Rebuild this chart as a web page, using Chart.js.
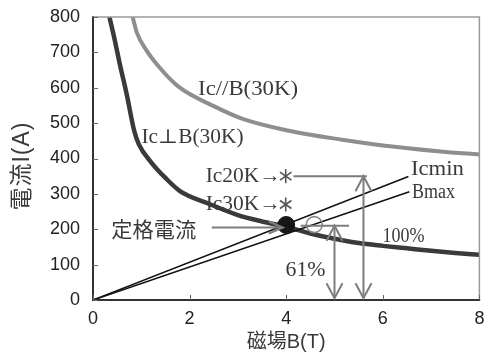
<!DOCTYPE html>
<html><head><meta charset="utf-8">
<script src="https://cdn.jsdelivr.net/npm/chart.js@4/dist/chart.umd.min.js"></script>
<style>html,body{margin:0;padding:0;background:#fff;overflow:hidden}canvas{display:block}</style>
</head><body><canvas id="c" width="489" height="352" style="width:489px;height:352px"></canvas>
<script>
// ---- data ----
const xTicks = [0, 2, 4, 6, 8];
const yTicks = [0, 100, 200, 300, 400, 500, 600, 700, 800];
const xTitle = '磁場B(T)';
const yTitle = '電流I(A)';

// Ic⊥B (30K)
const perpB = [0.34, 0.45, 0.55, 0.70, 0.85, 0.95, 1.2, 1.5, 1.8, 2.4, 3.0, 3.5, 4.0, 4.5, 5.0, 5.5, 6.0, 6.5, 7.0, 7.5, 8.0];
const perpI = [800, 735, 670, 580, 480, 440, 390, 345, 308, 272, 240, 222, 207, 188, 173, 161, 153, 146, 139, 133, 128];
// Ic//B (30K)
const paraB = [0.82, 0.91, 1.1, 1.36, 1.77, 2.5, 3.1, 4.0, 5.16, 6.0, 7.2, 8.0];
const paraI = [800, 755, 707, 660, 603, 548, 512, 480, 453, 437, 420, 411];
// load lines
const icminB = [0, 6.53];
const icminI = [0, 349];
const bmaxB = [0, 6.55];
const bmaxI = [0, 306];
// markers
const ratedB = [4.0];
const ratedI = [212];
const openB = [4.58];
const openI = [213];
const starB = [3.99, 3.99];
const starI = [350, 270];
// annotation guide values
const ic20KLine = {b0: 4.15, b1: 5.67, i: 350};
const openLine = {b0: 4.30, b1: 5.30, i: 210};
const ratedArrow = {b0: 2.46, b1: 3.93, i: 205};
const arrow61 = {b: 5.0, i0: 210, i1: 5};
const arrow100 = {b: 5.6, i0: 350, i1: 5};
// text annotations (anchored in data units)
const noteText = ['Ic//B(30K)', 'Ic⊥B(30K)', 'Ic20K→', 'Ic30K→', '定格電流', '100%', '61%', 'Icmin', 'Bmax'];
const noteB =    [3.21, 2.06, 3.11, 3.11, 1.26, 6.43, 4.40, 7.13, 7.05];
const noteI =    [594, 460, 348, 270, 200, 179, 83, 369, 304];

// ---- styles ----
const noteWidth = [100, 102, 75, 75, 85, 42, 40, 53, 43];
const SERIF = '20px "Liberation Serif", "DejaVu Serif", serif';
const CJK = '21px "Noto Sans CJK JP", sans-serif';
const GUIDE = '#7d7d7d';

const pts = (bs, is) => bs.map((b, k) => ({x: b, y: is[k]}));

const annoPlugin = {
  id: 'anno',
  afterDatasetsDraw(chart) {
    const {ctx, chartArea: a, scales: {x, y}} = chart;
    const px = v => x.getPixelForValue(v), py = v => y.getPixelForValue(v);
    ctx.save();
    // frame
    ctx.strokeStyle = '#9a9a9a'; ctx.lineWidth = 1.5;
    ctx.beginPath(); ctx.moveTo(a.left, a.top); ctx.lineTo(a.right, a.top); ctx.lineTo(a.right, a.bottom); ctx.stroke();
    ctx.strokeStyle = '#333'; ctx.lineWidth = 2;
    ctx.beginPath(); ctx.moveTo(a.left, a.top - 0.75); ctx.lineTo(a.left, a.bottom); ctx.lineTo(a.right + 0.75, a.bottom); ctx.stroke();
    // inward ticks
    ctx.strokeStyle = '#666'; ctx.lineWidth = 1;
    yTicks.forEach(v => { const yy = Math.round(py(v)) + 0.5; ctx.beginPath(); ctx.moveTo(a.left, yy); ctx.lineTo(a.left + 5, yy); ctx.stroke(); });
    xTicks.forEach(v => { const xx = Math.round(px(v)) + 0.5; ctx.beginPath(); ctx.moveTo(xx, a.bottom); ctx.lineTo(xx, a.bottom - 5); ctx.stroke(); });

    // guide lines
    ctx.strokeStyle = GUIDE; ctx.lineWidth = 2; ctx.lineCap = 'butt';
    const line = (x0, y0, x1, y1) => { ctx.beginPath(); ctx.moveTo(x0, y0); ctx.lineTo(x1, y1); ctx.stroke(); };
    line(px(ic20KLine.b0), py(ic20KLine.i), px(ic20KLine.b1), py(ic20KLine.i));
    line(px(openLine.b0), py(openLine.i), px(openLine.b1), py(openLine.i));
    const head = (tx, ty, dx, dy, len, hw) => {
      const nx = -dy, ny = dx;
      ctx.beginPath();
      ctx.moveTo(tx - dx * len + nx * hw, ty - dy * len + ny * hw);
      ctx.lineTo(tx, ty);
      ctx.lineTo(tx - dx * len - nx * hw, ty - dy * len - ny * hw);
      ctx.stroke();
    };
    const ra0 = px(ratedArrow.b0), ra1 = px(ratedArrow.b1), ray = py(ratedArrow.i);
    line(ra0, ray, ra1, ray); head(ra1, ray, 1, 0, 14, 6);
    [arrow61, arrow100].forEach(ar => {
      const xx = px(ar.b), y0 = py(ar.i0), y1 = py(ar.i1);
      line(xx, y0, xx, y1);
      head(xx, y0, 0, -1, 15, 8);
      head(xx, y1, 0, 1, 15, 8);
    });
    // asterisks
    ctx.strokeStyle = '#555'; ctx.lineWidth = 1.6;
    starB.forEach((b, k) => {
      const cx = px(b), cy = py(starI[k]), r = 7;
      [90, 35, 145].forEach(deg => {
        const t = deg * Math.PI / 180;
        line(cx - r * Math.cos(t), cy - r * Math.sin(t), cx + r * Math.cos(t), cy + r * Math.sin(t));
      });
    });
    // texts
    ctx.fillStyle = '#3a3a3a'; ctx.textBaseline = 'middle'; ctx.textAlign = 'center';
    noteText.forEach((t, k) => {
      const isCjk = /[\u3000-\u9fff]/.test(t);
      ctx.font = isCjk ? CJK : SERIF;
      const w = ctx.measureText(t).width;
      const sx = noteWidth[k] / w;
      ctx.save();
      ctx.translate(px(noteB[k]), py(noteI[k]));
      ctx.scale(sx, 1);
      ctx.fillText(t, 0, 0);
      ctx.restore();
    });
    // y axis title
    ctx.save();
    ctx.translate(23, 166);
    ctx.rotate(-Math.PI / 2);
    ctx.font = '23px "Liberation Sans", "Noto Sans CJK JP", sans-serif';
    ctx.fillStyle = '#3a3a3a';
    ctx.letterSpacing = '1px';
    ctx.fillText(yTitle, 0, 0);
    ctx.restore();
    ctx.restore();
  }
};

new Chart(document.getElementById('c'), {
  type: 'scatter',
  data: {
    datasets: [
      {label: 'rated', data: pts(ratedB, ratedI), pointRadius: 8.5, pointBackgroundColor: '#161616', pointBorderColor: '#161616', showLine: false},
      {label: 'open', data: pts(openB, openI), pointRadius: 8, pointBackgroundColor: 'rgba(0,0,0,0)', pointBorderColor: '#888', pointBorderWidth: 1.6, showLine: false},
      {label: 'Icmin', data: pts(icminB, icminI), showLine: true, borderColor: '#111', borderWidth: 1.6, pointRadius: 0, tension: 0},
      {label: 'Bmax', data: pts(bmaxB, bmaxI), showLine: true, borderColor: '#111', borderWidth: 1.6, pointRadius: 0, tension: 0},
      {label: 'Ic⊥B(30K)', data: pts(perpB, perpI), showLine: true, borderColor: '#3a3a3a', borderWidth: 4.5, pointRadius: 0, cubicInterpolationMode: 'monotone'},
      {label: 'Ic//B(30K)', data: pts(paraB, paraI), showLine: true, borderColor: '#8e8e8e', borderWidth: 4, pointRadius: 0, cubicInterpolationMode: 'monotone'}
    ]
  },
  options: {
    responsive: false, animation: false, devicePixelRatio: 1,
    layout: {padding: {left: 0, right: 5, top: 17, bottom: 0}},
    plugins: {legend: {display: false}, tooltip: {enabled: false}},
    scales: {
      x: {
        type: 'linear', min: 0, max: 8,
        afterBuildTicks: s => { s.ticks = xTicks.map(v => ({value: v})); },
        afterFit: s => { s.height = 52; s.paddingLeft = 0; s.paddingRight = 0; },
        grid: {display: false, drawTicks: false}, border: {display: false},
        ticks: {padding: 8, color: '#222', font: {family: '"Liberation Sans", Arial, sans-serif', size: 18}},
        title: {display: true, text: xTitle, color: '#3a3a3a', padding: {top: 0, bottom: 0},
                font: {family: '"Liberation Sans", "Noto Sans CJK JP", sans-serif', size: 20, lineHeight: 1}}
      },
      y: {
        type: 'linear', min: 0, max: 800,
        afterBuildTicks: s => { s.ticks = yTicks.map(v => ({value: v})); },
        afterFit: s => { s.width = 93; s.paddingTop = 0; s.paddingBottom = 0; },
        grid: {display: false, drawTicks: false}, border: {display: false},
        ticks: {padding: 13, color: '#222', font: {family: '"Liberation Sans", Arial, sans-serif', size: 18}}
      }
    }
  },
  plugins: [annoPlugin]
});
</script>
</body></html>
